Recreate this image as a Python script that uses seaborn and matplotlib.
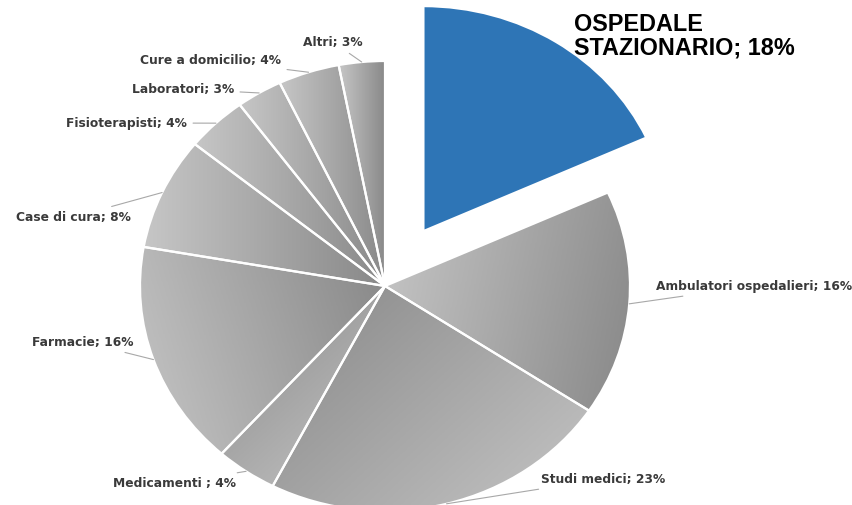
import numpy as np
import matplotlib
matplotlib.use("Agg")
import matplotlib.pyplot as plt
from matplotlib import font_manager
from matplotlib.colors import LinearSegmentedColormap
import seaborn as sns

# ---- data ----
categories = ["OSPEDALE\nSTAZIONARIO", "Ambulatori ospedalieri", "Studi medici", "Medicamenti ",
              "Farmacie", "Case di cura", "Fisioterapisti", "Laboratori", "Cure a domicilio", "Altri"]
values = [18, 16, 23, 4, 16, 8, 4, 3, 4, 3]
explode = [0.29, 0, 0, 0, 0, 0, 0, 0, 0, 0]

sns.set_theme(style="white")
plt.rcParams["font.family"] = ["DejaVu Sans"]

# find regular-width Liberation Sans Bold (avoid the Narrow variant)
title_fp = None
for f in font_manager.findSystemFonts():
    name = f.split("/")[-1]
    if name == "LiberationSans-Bold.ttf":
        title_fp = font_manager.FontProperties(fname=f, size=16.8)
        break
if title_fp is None:
    title_fp = font_manager.FontProperties(family="DejaVu Sans", weight="bold", size=15)

W, H = 853, 506
fig = plt.figure(figsize=(W / 100, H / 100), dpi=100)
ax = fig.add_axes([0, 0, 1, 1])

CX, CY, RX, RY = 385, 287, 245, 225
def px(x, y):
    return (x - CX) / RX, (CY - y) / RY

wedges, _ = ax.pie(values, explode=explode, startangle=90, counterclock=False,
                   colors=["#2e75b6"] + ["#aaaaaa"] * 9,
                   wedgeprops=dict(edgecolor="white", linewidth=1.6))

# gradient fill for grey slices
cmap = LinearSegmentedColormap.from_list("g", ["#c6c6c6", "#888888"])
grad_dirs = [None, (1, -0.2), (-1, 1), (-1, 1), (1, 0.3), (1, 0), (1, 0), (1, 0), (1, 0), (1, 0)]
for w, d in zip(wedges, grad_dirs):
    if d is None:
        continue
    verts = w.get_path().vertices
    x0, y0 = verts.min(axis=0)
    x1, y1 = verts.max(axis=0)
    xs = np.linspace(x0, x1, 200)
    ys = np.linspace(y0, y1, 200)
    X, Y = np.meshgrid(xs, ys)
    t = X * d[0] + Y * d[1]
    t = (t - t.min()) / (t.max() - t.min())
    im = ax.imshow(t, extent=[x0, x1, y0, y1], origin="lower", cmap=cmap,
                   aspect="auto", zorder=0.5, interpolation="bilinear")
    im.set_clip_path(w)
    w.set_facecolor("none")
    w.set_zorder(1)

# labels
total = sum(values)
cum = np.cumsum([0] + values)
label_pos = {  # pixel anchor, ha
    1: ((656, 287), "left"),
    2: ((541, 480), "left"),
    3: ((236, 484), "right"),
    4: ((134, 343), "right"),
    5: ((131, 218), "right"),
    6: ((187, 124), "right"),
    7: ((234, 90), "right"),
    8: ((281, 61), "right"),
    9: ((333, 43), "center"),
}
for i, ((lx, ly), ha) in label_pos.items():
    mid = (cum[i] + cum[i + 1]) / 2 / total
    ang = np.deg2rad(90 - 360 * mid)
    tx, ty = px(lx, ly)
    ax.annotate(f"{categories[i]}; {values[i]}%", xy=(np.cos(ang), np.sin(ang)),
                xytext=(tx, ty), ha=ha, va="center", fontsize=8.8, fontweight="bold",
                color="#3a3a3a",
                arrowprops=dict(arrowstyle="-", color="#a8a8a8", lw=0.8,
                                shrinkA=2, shrinkB=0))

tx, ty = px(574, 36)
ax.text(tx, ty, f"{categories[0]}; {values[0]}%", ha="left", va="center",
        fontproperties=title_fp, color="black", linespacing=1.05)

ax.set_aspect("auto")
xl0, _ = px(0, 0)
xl1, _ = px(W, 0)
_, yt = px(0, 0)
_, yb = px(0, H)
ax.set_xlim(xl0, xl1)
ax.set_ylim(yb, yt)
ax.axis("off")

fig.savefig("out.png", dpi=100, facecolor="white")
